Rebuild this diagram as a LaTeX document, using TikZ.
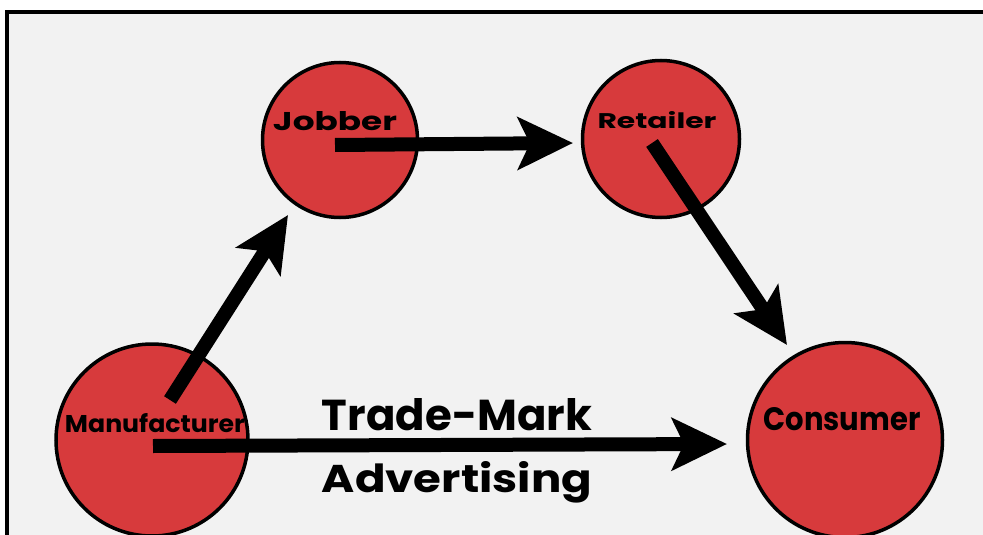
\documentclass[tikz,border=0pt]{standalone}
\usepackage{fontspec}
\newfontfamily\labelfont{Poppins}
\usetikzlibrary{arrows.meta}
\definecolor{inkred}{RGB}{215,58,60}
\definecolor{paper}{RGB}{242,242,242}
\begin{document}
\begin{tikzpicture}[x=1pt,y=-1pt,
  station/.style={circle,draw=black,line width=3.5pt,fill=inkred,inner sep=0pt},
  flow/.style={line width=14pt,-{Stealth[length=55pt,width=52pt,inset=12pt]}},
  tag/.style={anchor=base,inner sep=0pt,font=\labelfont\bfseries}]
\useasboundingbox (0,0) rectangle (983,535);
\clip (0,0) rectangle (983,535);
% sheet with its frame (top and left rules)
\fill[paper] (7,12) rectangle (995,545);
\draw[line width=4pt] (7,545) -- (7,12) -- (995,12);

% the four trade stations
\node[station,minimum size=192pt] (manu) at (152,440) {};
\node[station,minimum size=155pt] (jobber) at (340,140) {};
\node[station,minimum size=157pt] (retailer) at (661,139) {};
\node[station,minimum size=195pt] (consumer) at (845,440) {};

% station names
\node[tag] (manutxt) at (155,432) {\resizebox{180pt}{19pt}{Manufacturer}};
\node[tag] (jobtxt) at (335,130) {\resizebox{124pt}{19pt}{Jobber}};
\node[tag] (rettxt) at (657,128) {\resizebox{119pt}{17pt}{Retailer}};
\node[tag] (contxt) at (842,430) {\resizebox{157pt}{23pt}{Consumer}};

% flow of goods
\draw[flow] ([shift={(18,-40)}]manu.center) -- ([shift={(-52,75)}]jobber.center);
\draw[flow] ([shift={(-5,5)}]jobber.center) -- ([shift={(-88,4)}]retailer.center);
\draw[flow] ([shift={(-9,4)}]retailer.center) -- ([shift={(-58,-95)}]consumer.center);
\draw[flow] ([shift={(1,6)}]manu.center) -- ([shift={(-118,4)}]consumer.center);

% caption on the direct route
\node[tag] (tm) at (457,430) {\resizebox{270pt}{32pt}{Trade-Mark}};
\node[tag] (adv) at (457,492) {\resizebox{270pt}{31pt}{Advertising}};
\end{tikzpicture}
\end{document}
